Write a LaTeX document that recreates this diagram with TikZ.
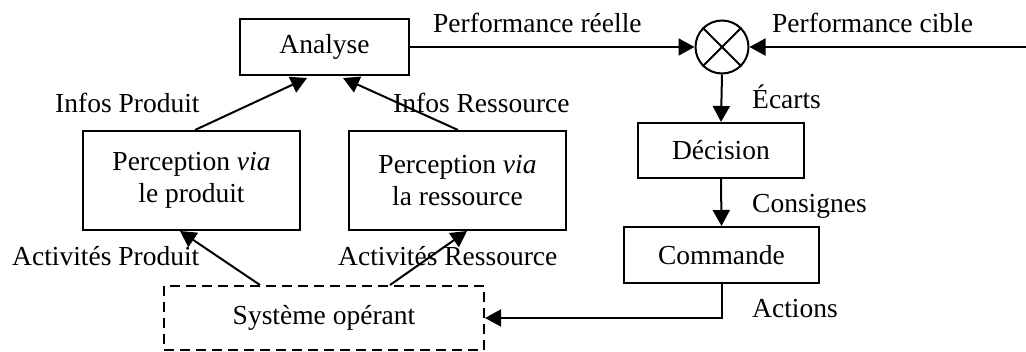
\documentclass[tikz,border=0pt]{standalone}
\usepackage{fontspec}
\setmainfont{Liberation Serif}
\usetikzlibrary{arrows.meta}
\begin{document}
\begin{tikzpicture}[x=1pt,y=-1pt,
  every node/.style={font=\fontsize{27.5}{32}\selectfont, inner sep=0pt},
  box/.style={draw, line width=2pt, minimum width=#1, align=center},
  arr/.style={line width=2pt, -{Triangle[length=16pt,width=17pt]}},
  lbl/.style={anchor=base west}]
\useasboundingbox (0,0) rectangle (1026,351);
% boxes
\node[box=169pt, minimum height=56pt] (ana) at (324.5,47) {Analyse};
\node[box=217pt, minimum height=99pt] (prod) at (191.5,180.5) {Perception \textit{via}\\le produit};
\node[box=217pt, minimum height=99pt] (res) at (457.5,180.5) {Perception \textit{via}\\la ressource};
\node[draw, line width=2pt, circle, minimum size=53pt] (sum) at (722,47) {};
\draw[line width=2pt] (sum.north west) -- (sum.south east) (sum.north east) -- (sum.south west);
\node[box=166pt, minimum height=55pt] (dec) at (721,150.5) {Décision};
\node[box=195pt, minimum height=56pt] (cmd) at (721.5,255) {Commande};
\node[draw, line width=2pt, dash pattern=on 10pt off 6pt, minimum width=320pt, minimum height=64pt] (sys) at (324,318) {Système opérant};
\coordinate (cin) at (1026,47);
% connectors
\draw[arr] (ana.east) -- (sum.west);
\draw[arr] (cin) -- (sum.east);
\draw[arr] (sum.south) -- (dec.north);
\draw[arr] (dec.south) -- (cmd.north);
\draw[arr] (cmd.south) |- (sys.east);
\draw[arr] ([xshift=3.5pt]prod.north) -- ([xshift=-17.5pt,yshift=-2pt]ana.south);
\draw[arr] ([xshift=0.5pt]res.north) -- ([xshift=18.5pt,yshift=-2pt]ana.south);
\draw[arr] ([xshift=-64pt]sys.north) -- ([xshift=-11.5pt]prod.south);
\draw[arr] ([xshift=66pt]sys.north) -- ([xshift=9.5pt]res.south);
% labels
\node[lbl] (l1) at (433,32) {Performance réelle};
\node[lbl] (l2) at (772,32) {Performance cible};
\node[lbl] (l3) at (752,108) {Écarts};
\node[lbl] (l4) at (752,212) {Consignes};
\node[lbl] (l5) at (752,317) {Actions};
\node[lbl] (l6) at (55,112) {Infos Produit};
\node[lbl] (l7) at (393,112) {Infos Ressource};
\node[lbl] (l8) at (12,265) {Activités Produit};
\node[lbl] (l9) at (338,265) {Activités Ressource};
\end{tikzpicture}
\end{document}
